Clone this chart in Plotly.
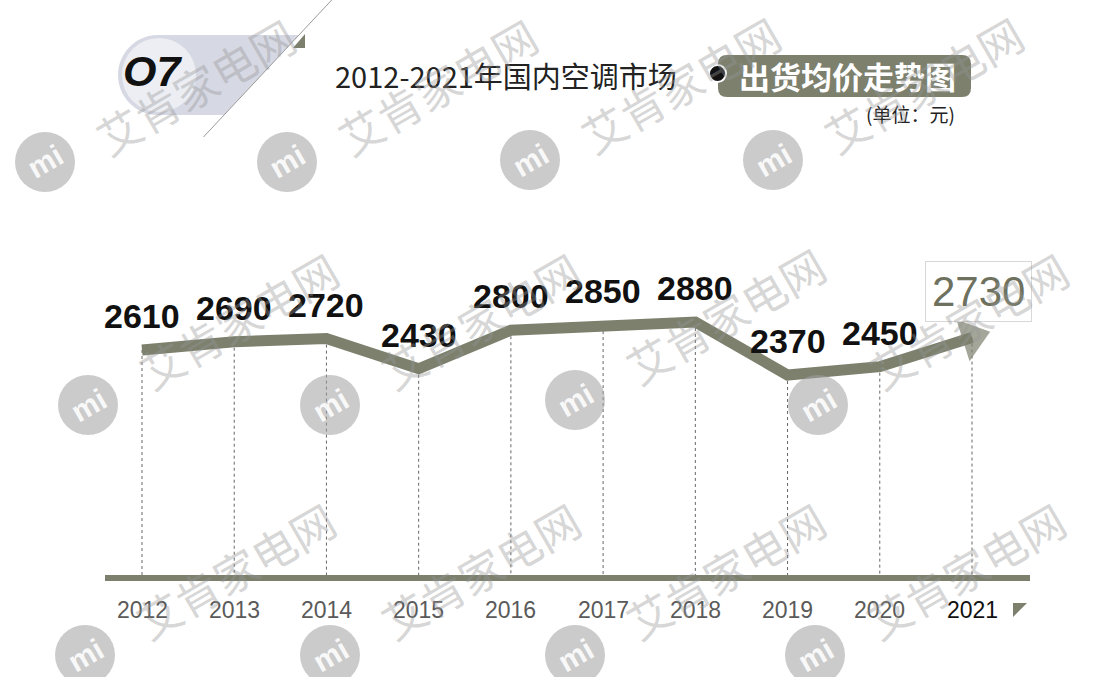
import plotly.graph_objects as go

# ---------------- data ----------------
years = ["2012", "2013", "2014", "2015", "2016", "2017", "2018", "2019", "2020", "2021"]
prices = [2610, 2690, 2720, 2430, 2800, 2850, 2880, 2370, 2450, 2730]
title_main = "2012-2021年国内空调市场"
title_tag = "出货均价走势图"
unit_text = "(单位：元)"
badge_text = "O7"
watermark_text = "艾肯家电网"
logo_text = "mi"

# ---------------- geometry helpers ----------------
W, H = 1108, 677
def px(x):
    return x / W
def py(y):
    return 1 - y / H

COL = "#7c806d"
NUM = "Liberation Sans, Arial, sans-serif"
CJK = "Noto Sans CJK SC, sans-serif"

xi = list(range(len(years)))
# axis ranges chosen so the plot spans the full page
x_per = 830 / 9
xmin = -142 / x_per
xmax = xmin + W / x_per
y_per = 0.104
yref0, pref0 = 2370, 375
ymax = yref0 + pref0 / y_per
ymin = yref0 - (H - pref0) / y_per
BASE = yref0 - (578 - pref0) / y_per

fig = go.Figure()

# dotted drop lines
for i, v in zip(xi, prices):
    fig.add_trace(go.Scatter(x=[i, i], y=[v, BASE], mode="lines",
                             line=dict(color="#666666", width=1, dash="dot"),
                             hoverinfo="skip", showlegend=False))

# baseline
fig.add_trace(go.Scatter(x=[xmin + 105 / x_per, xmin + 1030 / x_per], y=[BASE, BASE],
                         mode="lines", line=dict(color=COL, width=6),
                         hoverinfo="skip", showlegend=False))

# main line with arrow head at the end
sizes = [0] * (len(xi) - 1) + [38]
fig.add_trace(go.Scatter(x=xi, y=prices, mode="lines+markers",
                         line=dict(color=COL, width=11),
                         marker=dict(symbol="triangle-up", size=sizes, color=COL,
                                     angleref="previous", line=dict(width=0)),
                         hoverinfo="skip", showlegend=False))

annotations = []
shapes = []

# value labels
for i, v in zip(xi[:-1], prices[:-1]):
    annotations.append(dict(x=i, y=v, xref="x", yref="y", text=f"<b>{v}</b>", showarrow=False,
                            xanchor="center", yanchor="bottom", yshift=13,
                            font=dict(family=NUM, size=34, color="#111111")))
# highlighted last value in a box
annotations.append(dict(x=xi[-1], y=prices[-1], xref="x", yref="y", text=str(prices[-1]),
                        showarrow=False, xanchor="center", yanchor="bottom", yshift=16, xshift=6,
                        bgcolor="white", bordercolor="#d8d8d8", borderwidth=1, borderpad=6,
                        font=dict(family=NUM, size=42, color="#6d715d")))

# year labels
for i, yr in zip(xi, years):
    last = (i == xi[-1])
    annotations.append(dict(x=i, y=py(610), xref="x", yref="paper",
                            text=yr, showarrow=False,
                            xanchor="center", yanchor="middle",
                            font=dict(family=NUM, size=23,
                                      color="#111111" if last else "#5a5a5a")))

# small triangle near last year
shapes.append(dict(type="path", xref="paper", yref="paper",
                   path=f"M {px(1013)} {py(603)} L {px(1027)} {py(603)} L {px(1013)} {py(617)} Z",
                   fillcolor=COL, line=dict(width=0)))

# ---------------- header ----------------
R = 40
k = 0.5523 * R
cy = 75
lx0 = 118
top, bot = cy - R, cy + R
def diag_x(y):
    return 313 - (y - 20) * 103 / 110
pill = (f"M {px(lx0 + R)} {py(top)} L {px(diag_x(top))} {py(top)} L {px(diag_x(bot))} {py(bot)} "
        f"L {px(lx0 + R)} {py(bot)} "
        f"C {px(lx0 + R - k)} {py(bot)} {px(lx0)} {py(cy + k)} {px(lx0)} {py(cy)} "
        f"C {px(lx0)} {py(cy - k)} {px(lx0 + R - k)} {py(top)} {px(lx0 + R)} {py(top)} Z")
shapes.append(dict(type="path", xref="paper", yref="paper", path=pill,
                   fillcolor="#d6d9e3", line=dict(width=0), layer="below"))
shapes.append(dict(type="circle", xref="paper", yref="paper",
                   x0=px(lx0 + 4), x1=px(lx0 + 4 + 2 * (R - 3)), y0=py(bot - 3), y1=py(top + 3),
                   fillcolor="#eceef3", line=dict(width=0), layer="below"))
shapes.append(dict(type="line", xref="paper", yref="paper",
                   x0=px(diag_x(137)), y0=py(137), x1=px(diag_x(0)), y1=py(0),
                   line=dict(color="#9a9a9a", width=1)))
shapes.append(dict(type="path", xref="paper", yref="paper",
                   path=f"M {px(293)} {py(48)} L {px(305)} {py(48)} L {px(305)} {py(34)} Z",
                   fillcolor=COL, line=dict(width=0)))
annotations.append(dict(x=px(152), y=py(71), xref="paper", yref="paper",
                        text=f"<b><i>{badge_text}</i></b>", showarrow=False,
                        xanchor="center", yanchor="middle",
                        font=dict(family=NUM, size=43, color="#111111")))

annotations.append(dict(x=px(506), y=py(75), xref="paper", yref="paper", text=title_main,
                        showarrow=False, xanchor="center", yanchor="middle",
                        font=dict(family=CJK, size=29, color="#222222")))
# tag pill
r = 9
x0t, x1t, y0t, y1t = 718, 971, 55, 97
shapes.append(dict(type="path", xref="paper", yref="paper",
                   path=(f"M {px(x0t + r)} {py(y0t)} L {px(x1t - r)} {py(y0t)} Q {px(x1t)} {py(y0t)} {px(x1t)} {py(y0t + r)} "
                         f"L {px(x1t)} {py(y1t - r)} Q {px(x1t)} {py(y1t)} {px(x1t - r)} {py(y1t)} "
                         f"L {px(x0t + r)} {py(y1t)} Q {px(x0t)} {py(y1t)} {px(x0t)} {py(y1t - r)} "
                         f"L {px(x0t)} {py(y0t + r)} Q {px(x0t)} {py(y0t)} {px(x0t + r)} {py(y0t)} Z"),
                   fillcolor=COL, line=dict(width=0)))
shapes.append(dict(type="circle", xref="paper", yref="paper",
                   x0=px(709), x1=px(726), y0=py(82), y1=py(65),
                   fillcolor="#111111", line=dict(color="white", width=2)))
annotations.append(dict(x=px(847), y=py(76), xref="paper", yref="paper",
                        text=f"<b>{title_tag}</b>", showarrow=False,
                        xanchor="center", yanchor="middle",
                        font=dict(family=CJK, size=31, color="white")))
annotations.append(dict(x=px(910), y=py(113), xref="paper", yref="paper", text=unit_text,
                        showarrow=False, xanchor="center", yanchor="middle",
                        font=dict(family=CJK, size=19, color="#222222")))

# ---------------- watermarks ----------------
logo_pos = [(45, 162), (287, 162), (530, 160), (773, 160),
            (88, 405), (330, 405), (575, 400), (818, 405),
            (85, 655), (330, 655), (575, 655), (815, 655)]
for n, (lx, ly) in enumerate(logo_pos):
    shapes.append(dict(type="circle", xref="paper", yref="paper",
                       x0=px(lx - 30), x1=px(lx + 30), y0=py(ly + 30), y1=py(ly - 30),
                       fillcolor="rgba(160,160,160,0.55)", line=dict(width=0), layer="above"))
    annotations.append(dict(x=px(lx), y=py(ly), xref="paper", yref="paper",
                            text=f"<b>{logo_text}</b>", textangle=-30, showarrow=False,
                            xanchor="center", yanchor="middle",
                            font=dict(family=NUM, size=30, color="rgba(255,255,255,0.9)")))
    dy = -76 if n < 4 else -85
    annotations.append(dict(x=px(lx + 150), y=py(ly + dy), xref="paper", yref="paper",
                            text=watermark_text, textangle=-30, showarrow=False,
                            xanchor="center", yanchor="middle",
                            font=dict(family=CJK, size=44, color="rgba(150,150,150,0.4)")))

fig.update_layout(
    width=W, height=H,
    margin=dict(l=0, r=0, t=0, b=0),
    paper_bgcolor="white", plot_bgcolor="white",
    xaxis=dict(range=[xmin, xmax], visible=False, fixedrange=True),
    yaxis=dict(range=[ymin, ymax], visible=False, fixedrange=True),
    shapes=shapes, annotations=annotations, showlegend=False,
)

fig.write_html("out.html", config={"displayModeBar": False},
               post_script="document.body.style.margin='0';document.body.style.overflow='hidden';")
